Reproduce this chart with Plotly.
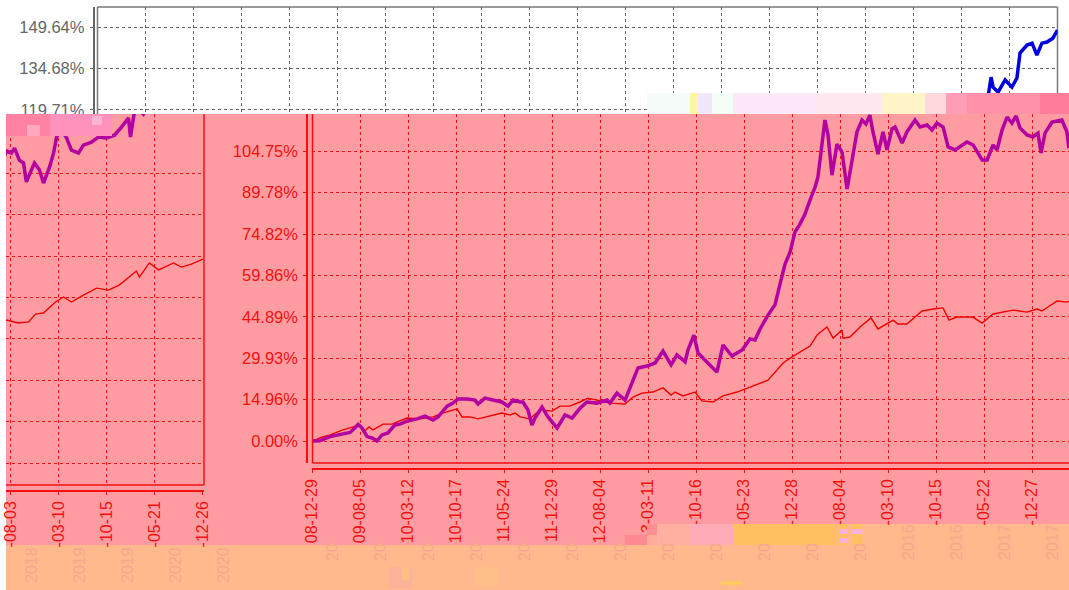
import pandas as pd
import plotly.graph_objects as go

W, H = 1069, 590
START = "2008-12-29"

# ---- data ----
tick_dates = ["2008-12-29","2009-08-05","2010-03-12","2010-10-17","2011-05-24","2011-12-29","2012-08-04",
              "2013-03-11","2013-10-16","2014-05-23","2014-12-28","2015-08-04","2016-03-10","2016-10-15",
              "2017-05-22","2017-12-27","2018-08-03","2019-03-10","2019-10-15","2020-05-21","2020-12-26"]
main_tick_text = ["08-12-29","09-08-05","10-03-12","10-10-17","11-05-24","11-12-29","12-08-04",
                  "3-03-11","-10-16","-05-23","-12-28","-08-04","-03-10","-10-15","-05-22","-12-27"]
left_tick_text = ["-08-03","-03-10","-10-15","-05-21","-12-26"]
top_vals = [119.71, 134.68, 149.64]
top_text = ["119.71%", "134.68%", "149.64%"]
main_vals = [0.0, 14.96, 29.93, 44.89, 59.86, 74.82, 89.78, 104.75]
main_text = ["0.00%", "14.96%", "29.93%", "44.89%", "59.86%", "74.82%", "89.78%", "104.75%"]

fund_days = [3,35,81,126,172,195,209,227,250,273,295,318,345,377,400,432,478,514,551,574,615,642,665,706,742,756,
             788,824,865,893,916,948,961,984,1002,1016,1048,1075,1117,1153,1185,1222,1253,1299,1345,1358,1390,
             1427,1459,1486,1527,1564,1600,1637,1664,1701,1714,1741,1760,1801,1846,1874,1915,1961,1997,2020,
             2043,2079,2111,2134,2157,2180,2202,2225,2248,2271,2294,2307,2321,2339,2353,2371,2394,2417,2440,
             2462,2485,2508,2526,2544,2558,2581,2604,2622,2645,2659,2691,2713,2750,2773,2805,2827,2850,2878,
             2901,2933,2987,3015,3056,3079,3106,3124,3147,3170,3192,3211,3229,3261,3288,3311,3325,3343,3375,
             3420,3443,3452,3484,3507,3521,3543,3562,3575,3598,3612,3635,3653,3681,3699,3713,3735,3758,3781,
             3813,3835,3872,3904,3941,3977,4009,4041,4050,4068,4077,4086,4109,4141,4172,4195,4209,4241,4264,
             4286,4309,4332,4359,4380]
fund_pct = [0,0.1,1.6,2.4,3.1,4.8,6.0,4.7,1.6,1.1,0,2.2,2.9,5.8,6.1,7.2,8,9,7.6,8.7,12.6,13.7,15.2,15.2,14.8,13.4,
            15.5,14.8,14.1,12.6,14.8,14.1,14.1,11.2,5.8,8.3,12.3,8.7,4.7,9.4,8.3,11.9,14.1,13.7,14.8,13.7,17.3,
            14.8,21,26.4,27.1,28.2,32.5,27.5,31.1,28.6,32.9,38.3,31.8,28.6,24.9,34.7,30.7,32.9,36.9,36.5,
            40.5,45.5,49.2,56.7,64,68.3,75.5,78.4,82,87.1,91.8,95.4,105.5,116,110.6,96.1,107.3,104.4,91.1,
            100.8,111.7,116,114.6,117.8,111.7,103.7,111.7,105.2,112.8,113.5,107.7,111.7,116,113.5,114.2,112.4,114.9,113.5,
            106.3,105.2,108.1,107,101.6,101.6,107,105.2,112.4,117.1,114.9,117.5,113.1,110.6,109.9,111.3,104.1,111.3,115.3,
            116,111.7,105.9,112.8,112,113.8,109.5,108.4,101.6,105.9,108.4,105.9,101.2,107,112,117.8,120.3,117.5,113.1,
            112,114.9,116,117.8,117.5,118.5,121.4,124.7,117.8,126.1,131.5,127.9,126.1,130.5,127.9,131.2,140.2,143.1,143.8,
            139.5,143.8,144.2,145.6,148.5]

bench_days = [3,44,81,140,187,218,240,259,277,323,364,386,432,491,551,596,660,683,720,756,811,865,902,925,948,993,
              1039,1094,1130,1176,1221,1258,1313,1358,1427,1463,1504,1554,1600,1637,1655,1691,1746,1778,1828,1874,
              1938,1997,2079,2148,2189,2271,2303,2348,2376,2417,2421,2453,2499,2549,2581,2650,2672,2713,2782,2832,
              2878,2905,2941,3014,3056,3106,3197,3261,3306,3329,3398,3443,3484,3539,3585,3617,3653,3708,3744,3781,
              3835,3895,3949,3999,4077,4091,4136,4178,4246,4282,4328,4380]
bench_pct = [0,1.4,2.2,4,5.1,5.8,3.6,5.1,4,6.1,6.1,6.9,8.3,8,8.7,10.1,11.6,8.7,8.7,8,9,10.1,9.4,10.1,8.7,8,
             11.2,10.8,12.6,12.6,14.1,15.5,14.5,13.7,13.4,15.9,17.3,17.7,19.2,16.6,17.7,16.3,17.7,14.5,14.1,16.3,
             17.7,19.5,22,28.2,30.4,34.3,38.3,41.2,37.2,40.1,37.2,37.6,41.2,44.5,40.5,43.7,42.3,42.3,47,47.7,
             48.1,43.7,44.8,44.8,42.6,45.9,47.3,46.6,47.7,47,50.6,50.2,51.7,50.6,51,53.8,54.2,58.2,60,58.2,
             60.7,63.2,62.5,64.3,69.4,67.2,72.3,69.8,72.3,70.8,71.9,73.7]

year_labels_left = ["2018", "2019", "2019", "2020", "2020"]
year_labels_main = ["20"] * 12 + ["2016", "2016", "2017", "2017"]

# ---- styles / layout geometry ----
PINK, ORANGE = "#FF9CA2", "#FFB98D"
RED, GRAY = "#F51010", "#666666"
PURPLE, BLUE = "#B400A0", "#0000DC"
FONT = "Liberation Sans"
PX_PER_DAY = 960 / 4380
T0 = pd.Timestamp(START)

def day_px(px_from_start):
    return T0 + pd.Timedelta(days=px_from_start / PX_PER_DAY)

def val(y_px):  # y pixel of the un-shifted chart to value
    return (441 - y_px) * 149.64 / 414

fund_x = [T0 + pd.Timedelta(days=d) for d in fund_days]
bench_x = [T0 + pd.Timedelta(days=d) for d in bench_days]

def xd(a, b): return [a / W, b / W]
def yd(top, bot): return [1 - bot / H, 1 - top / H]

fig = go.Figure()
def lines(xa, ya, fund_color, with_bench=True):
    if with_bench:
        fig.add_trace(go.Scatter(x=bench_x, y=bench_pct, mode="lines", line=dict(color="#F00000", width=1.4),
                                 xaxis=xa, yaxis=ya, showlegend=False))
    fig.add_trace(go.Scatter(x=fund_x, y=fund_pct, mode="lines", line=dict(color=fund_color, width=3.5),
                             xaxis=xa, yaxis=ya, showlegend=False))

lines("x", "y", BLUE, with_bench=False)   # top panel
lines("x2", "y2", PURPLE)                 # main panel
lines("x3", "y3", PURPLE)                 # shifted left panel

dash = "3px,3px"
def xaxis(dom, rng, vals, text, color, pos=None, labels=True):
    return dict(domain=dom, range=rng, type="date", tickmode="array", tickvals=vals, ticktext=text,
                tickangle=-90, showgrid=True, griddash=dash, gridcolor=color, gridwidth=1, zeroline=False,
                showline=labels, linecolor=color, linewidth=1.5, ticks="outside" if labels else "", ticklen=3,
                tickcolor=color, showticklabels=labels, tickfont=dict(family=FONT, size=16, color=color),
                anchor="free", position=pos if pos is not None else 0)

def yaxis(dom, rng, vals, text, color, pos, labels=True):
    return dict(domain=dom, range=rng, tickmode="array", tickvals=vals, ticktext=text,
                showgrid=True, griddash=dash, gridcolor=color, gridwidth=1, zeroline=False,
                showline=labels, linecolor=color, linewidth=1.5, ticks="outside" if labels else "", ticklen=3,
                tickcolor=color, showticklabels=labels, tickfont=dict(family=FONT, size=16.5, color=color),
                ticklabelstandoff=2, anchor="free", position=pos)

X0_TOP, X1_TOP = 97.5, 1057.5
X0_MAIN = 312.3
SHIFT_LEFT = 854.7

top_range = [day_px(0), day_px(960)]
main_range = [day_px(0), day_px(W - X0_MAIN)]
left_range = [day_px(6 + SHIFT_LEFT - X0_TOP), day_px(203.5 + SHIFT_LEFT - X0_TOP)]

layout = dict(
    width=W, height=H, margin=dict(l=0, r=0, t=0, b=0, autoexpand=False), autosize=False,
    paper_bgcolor="white", plot_bgcolor="rgba(0,0,0,0)",
    xaxis=xaxis(xd(X0_TOP, X1_TOP), top_range, tick_dates, tick_dates, GRAY, labels=False),
    yaxis=yaxis(yd(7, 114), [val(114), val(7)], top_vals, top_text, GRAY, 93.5 / W),
    xaxis2=xaxis(xd(X0_MAIN, W), main_range, tick_dates[:16], main_tick_text, RED, pos=1 - 469 / H),
    yaxis2=yaxis(yd(114, 463), [val(463), val(114)], main_vals, main_text, RED, 307 / W),
    xaxis3=xaxis(xd(6, 203.5), left_range, tick_dates[16:], left_tick_text, RED, pos=1 - 491 / H),
    yaxis3=yaxis(yd(114, 485), [val(463), val(92)], main_vals, main_text, RED, 0, labels=False),
)
layout["xaxis"]["anchor"] = "y"
fig.update_layout(**layout)

def rect(x0, y0, x1, y1, color, layer="above"):
    return dict(type="rect", xref="paper", yref="paper", x0=x0 / W, x1=x1 / W, y0=1 - y1 / H, y1=1 - y0 / H,
                fillcolor=color, line=dict(width=0), layer=layer)

def seg(x0, y0, x1, y1, color, width=1.5):
    return dict(type="line", xref="paper", yref="paper", x0=x0 / W, x1=x1 / W, y0=1 - y1 / H, y1=1 - y0 / H,
                line=dict(color=color, width=width), layer="between")

shapes = [
    rect(6, 114, W, 545, PINK, "below"),
    rect(6, 524, W, 545, PINK, "below"),
    rect(6, 545, W, H, ORANGE, "below"),
    rect(836, 524, W, 545, ORANGE, "below"),
    # frames
    seg(X0_TOP, 7, X1_TOP, 7, "#777777"), seg(X0_TOP, 7, X0_TOP, 114, "#777777"), seg(X1_TOP, 7, X1_TOP, 93, "#777777"),
    seg(312.5, 114, 312.5, 463, RED), seg(312.5, 463, W, 463, RED),
    seg(204, 114, 204, 485, RED, 1.5), seg(6, 485, 204, 485, RED),
]
TILES = [
    # strip above the main area
    (647,93,690,114,"#F4FBF8"),(690,93,698,114,"#FBF6A0"),(698,93,712,114,"#F0E8FA"),(712,93,733,114,"#F2FEF6"),
    (733,93,817,114,"#FDE8F8"),(817,93,882,114,"#FFE8F0"),(882,93,925,114,"#FFF4C8"),(925,93,946,114,"#FFD8DC"),
    (946,93,967,114,"#FF9CB6"),(967,93,1040,114,"#FF92A8"),(1040,93,W,114,"#FF7C9A"),
    # tile over the left panel
    (6,114,50,136,"#FF82A2"),(50,114,112,136,"#FF92BC"),(92,116,102,125,"#FFB4D4"),(27,125,40,136,"#FFA8C0"),
    # label tiles
    (625,535,647,545,"#FF8A94"),(647,524,657,535,"#FF8E92"),(647,535,657,545,"#FFAA9A"),(657,524,690,545,"#FFB0A0"),
    (690,524,733,545,"#FFACB8"),(733,524,836,545,"#FFC060"),(838,524,848,545,"#FFC060"),(852,524,862,545,"#FFC060"),
    (839,529,847,534,"#F8B0E0"),(852,529,862,534,"#F8B0E0"),(839,538,847,543,"#F8B0E0"),
    # small specks at the bottom
    (389,567,413,588,"#FBB49A"),(402,567,409,580,"#FFC080"),(475,567,499,586,"#FFBE88"),(721,581,742,585,"#FFC860"),
]
shapes += [rect(*t) for t in TILES]
fig.update_layout(shapes=shapes)

FAINT = "#F8A68E"
ann = []
def faint(text, x, y):
    ann.append(dict(text=text, x=x / W, y=1 - y / H, xref="paper", yref="paper", textangle=-90, showarrow=False,
                    font=dict(family=FONT, size=16, color=FAINT), xanchor="center", yanchor="middle"))
for i, t in enumerate(year_labels_left):
    faint(t, 31 + 48 * i, 565)
for i, t in enumerate(year_labels_main):
    faint(t, 332 + 48 * i, 552 if t == "20" else 542)
fig.update_layout(annotations=ann)

fig.write_html("out.html", post_script="document.body.style.margin='0';", config={"responsive": False, "displayModeBar": False})
